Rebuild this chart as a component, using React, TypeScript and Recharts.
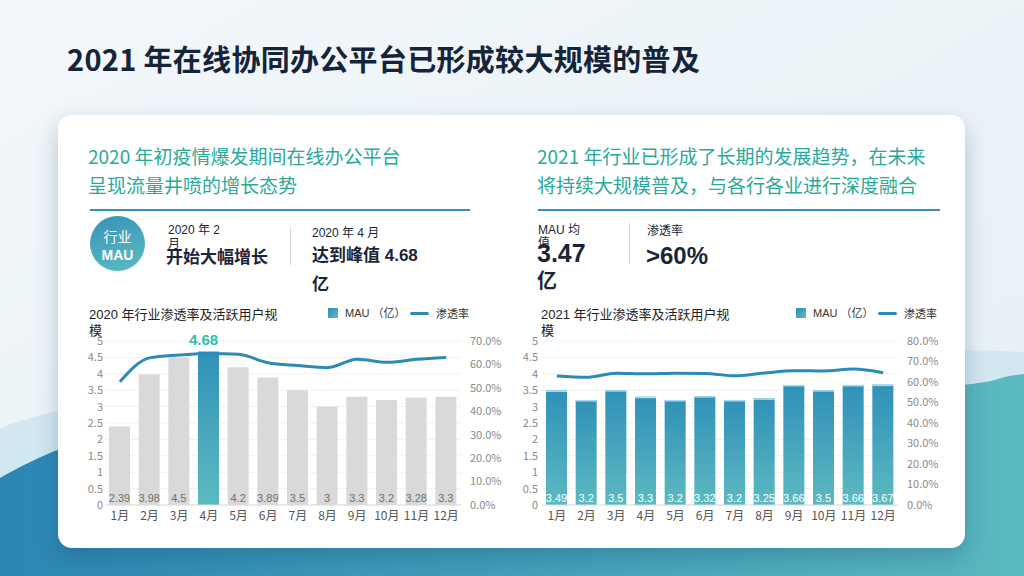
import React from 'react';
import { ComposedChart, Bar, Line, XAxis, YAxis, CartesianGrid, Cell, LabelList } from 'recharts';

const months = ['1月', '2月', '3月', '4月', '5月', '6月', '7月', '8月', '9月', '10月', '11月', '12月'];

// MAU in 亿, penetration in %
const mau2020 = [2.39, 3.98, 4.5, 4.68, 4.2, 3.89, 3.5, 3, 3.3, 3.2, 3.28, 3.3];
const rate2020 = [52.6, 62.8, 64.0, 64.7, 64.3, 60.7, 59.5, 58.6, 62.2, 60.9, 62.2, 63.0];
const mau2021 = [3.49, 3.2, 3.5, 3.3, 3.2, 3.32, 3.2, 3.25, 3.66, 3.5, 3.66, 3.67];
const rate2021 = [62.9, 62.3, 64.3, 64.0, 64.3, 64.2, 63.0, 64.4, 65.5, 65.4, 66.3, 64.5];

const mauTicks = [0, 0.5, 1, 1.5, 2, 2.5, 3, 3.5, 4, 4.5, 5];
const rate2020Ticks = [0, 10, 20, 30, 40, 50, 60, 70];
const rate2021Ticks = [0, 10, 20, 30, 40, 50, 60, 70, 80];

const PEAK_INDEX = 3;

const LATIN = '"Liberation Sans", "Noto Sans CJK SC", sans-serif';
const CJK = '"Noto Sans CJK SC", sans-serif';
const TEAL_TEXT = '#2aa99b';
const LINE_BLUE = '#2c8bb6';
const INK = '#1b2538';

const toRows = (mau: number[], rate: number[]) =>
  months.map((m, i) => ({ month: m, mau: mau[i], rate: rate[i] }));

const pctLabel = (v: number) => `${v.toFixed(1)}%`;

const boxOf = (p: any) => {
  const vb = p.viewBox || {};
  return {
    x: p.x ?? vb.x,
    y: p.y ?? vb.y,
    width: p.width ?? vb.width,
    height: p.height ?? vb.height,
  };
};

// value printed at the foot of each bar
const footLabel = (color: string, skip = -1) => (props: any) => {
  if (props.index === skip) return null;
  const { x, y, width, height } = boxOf(props);
  return (
    <text x={x + width / 2} y={y + height - 3} textAnchor="middle" fontSize={11} fill={color} fontFamily={LATIN}>
      {props.value}
    </text>
  );
};

// highlighted value above the peak bar
const peakLabel = (idx: number) => (props: any) => {
  if (props.index !== idx) return null;
  const { x, y, width } = boxOf(props);
  return (
    <text x={x + width / 2 - 5} y={y - 6} textAnchor="middle" fontSize={15} fontWeight={700} fill="#2bbfa9" fontFamily={LATIN}>
      {props.value}
    </text>
  );
};

// gradient bar with a thin light cap
const CappedBar = (props: any) => {
  const { x, y, width, height, fill } = props;
  if (!height || height <= 0) return null;
  return (
    <g>
      <rect x={x} y={y} width={width} height={height} fill={fill} />
      <rect x={x} y={y} width={width} height={1.5} fill="#a9dcea" />
    </g>
  );
};

type ChartProps = {
  left: number;
  mau: number[];
  rate: number[];
  rateMax: number;
  rateTicks: number[];
  year2020?: boolean;
  leftMargin: number;
};

function MauChart({ left, mau, rate, rateMax, rateTicks, year2020, leftMargin }: ChartProps) {
  const rows = toRows(mau, rate);
  return (
    <div style={{ position: 'absolute', left, top: 330 }}>
      <ComposedChart width={452} height={200} data={rows} margin={{ top: 11, right: 0, bottom: 0, left: 0 }}>
        <CartesianGrid vertical={false} stroke="#f1f1f1" />
        <XAxis
          dataKey="month"
          interval={0}
          height={25}
          tickLine={false}
          tickSize={0}
          tickMargin={6}
          axisLine={{ stroke: '#dcdcdc' }}
          tick={{ fontSize: 12, fill: '#555', fontFamily: CJK }}
        />
        <YAxis
          domain={[0, 5]}
          ticks={mauTicks}
          interval={0}
          width={45}
          tickLine={false}
          axisLine={false}
          tickSize={0}
          tickMargin={leftMargin}
          tick={{ fontSize: 11, fill: '#8a8a8a', fontFamily: CJK }}
        />
        <YAxis
          yAxisId="rate"
          orientation="right"
          domain={[0, rateMax]}
          ticks={rateTicks}
          interval={0}
          tickFormatter={pctLabel}
          width={51}
          tickLine={false}
          axisLine={false}
          tickSize={0}
          tickMargin={9}
          tick={{ fontSize: 11, fill: '#8a8a8a', fontFamily: CJK }}
        />
        <Bar dataKey="mau" barSize={21} isAnimationActive={false} fill="url(#mauFill)" shape={year2020 ? undefined : CappedBar}>
          {year2020 && rows.map((_, i) => <Cell key={i} fill={i === PEAK_INDEX ? 'url(#mauFill)' : '#d9d9d9'} />)}
          <LabelList dataKey="mau" content={footLabel(year2020 ? '#6f6f6f' : '#ffffff', year2020 ? PEAK_INDEX : -1)} />
          {year2020 && <LabelList dataKey="mau" content={peakLabel(PEAK_INDEX)} />}
        </Bar>
        <Line
          yAxisId="rate"
          dataKey="rate"
          type="monotone"
          stroke={LINE_BLUE}
          strokeWidth={3}
          dot={false}
          activeDot={false}
          isAnimationActive={false}
        />
      </ComposedChart>
    </div>
  );
}

const abs = (left: number, top: number, extra: React.CSSProperties = {}): React.CSSProperties => ({
  position: 'absolute',
  left,
  top,
  whiteSpace: 'nowrap',
  lineHeight: 1,
  ...extra,
});

function Legend({ left }: { left: number }) {
  return (
    <>
      <div style={abs(left, 308, { width: 10, height: 10, background: 'linear-gradient(135deg, #2f8db7, #5bbac1)' })} />
      <div style={abs(left + 17, 308, { fontSize: 11, color: '#333', fontFamily: LATIN })}>MAU （亿）</div>
      <div style={abs(left + 82, 312, { width: 19, height: 3, background: LINE_BLUE, borderRadius: 2 })} />
      <div style={abs(left + 108, 308, { fontSize: 11, color: '#333', fontFamily: CJK })}>渗透率</div>
    </>
  );
}

export default function App() {
  return (
    <div style={{ position: 'absolute', left: 0, top: 0, width: 1024, height: 576, overflow: 'hidden', fontFamily: CJK }}>
      <svg width={1024} height={576} style={{ position: 'absolute', left: 0, top: 0 }}>
        <defs>
          <linearGradient id="sky" x1="0" y1="0" x2="1" y2="1">
            <stop offset="0" stopColor="#f2f7fa" />
            <stop offset="1" stopColor="#e5eff5" />
          </linearGradient>
          <linearGradient id="sea" x1="0" y1="0" x2="1" y2="0">
            <stop offset="0" stopColor="#2b86b4" />
            <stop offset="1" stopColor="#5bb9c0" />
          </linearGradient>
          <linearGradient id="mauFill" x1="0" y1="0" x2="0" y2="1">
            <stop offset="0" stopColor="#3190b8" />
            <stop offset="1" stopColor="#5cbac1" />
          </linearGradient>
        </defs>
        <rect width={1024} height={576} fill="url(#sky)" />
        <path d="M0,428 C 90,395 300,360 600,360 S 900,345 1024,352 L1024,576 L0,576 Z" fill="#d3e7f0" />
        <path d="M0,478 C 40,455 80,438 140,428 S 600,400 820,392 S 970,380 1024,374 L1024,576 L0,576 Z" fill="url(#sea)" />
      </svg>

      <div style={abs(67, 44, { fontSize: 29, fontWeight: 700, color: '#16243a', letterSpacing: 0.3 })}>
        2021 年在线协同办公平台已形成较大规模的普及
      </div>

      <div
        style={{
          position: 'absolute',
          left: 58,
          top: 115,
          width: 907,
          height: 433,
          background: '#fff',
          borderRadius: 14,
          boxShadow: '0 10px 22px rgba(20, 70, 100, 0.28)',
        }}
      />

      {/* 2020 side */}
      <div style={abs(88, 146, { fontSize: 19, color: TEAL_TEXT })}>2020 年初疫情爆发期间在线办公平台</div>
      <div style={abs(88, 175, { fontSize: 19, color: TEAL_TEXT })}>呈现流量井喷的增长态势</div>
      <div style={abs(90, 209, { width: 380, height: 1.5, background: '#3a8fbf' })} />

      <div
        style={abs(90, 216, {
          width: 55,
          height: 55,
          borderRadius: '50%',
          background: 'linear-gradient(160deg, #3793b9, #5dbcc2)',
        })}
      />
      <div style={abs(90, 229, { width: 55, textAlign: 'center', fontSize: 14, color: '#fff' })}>行业</div>
      <div style={abs(90, 248, { width: 55, textAlign: 'center', fontSize: 14, fontWeight: 700, color: '#fff', fontFamily: LATIN })}>MAU</div>

      <div style={abs(168, 224, { fontSize: 12, color: INK, fontFamily: LATIN })}>2020 年 2</div>
      <div style={abs(168, 237, { fontSize: 12, color: INK })}>月</div>
      <div style={abs(166, 247, { fontSize: 17, fontWeight: 700, color: INK })}>开始大幅增长</div>
      <div style={abs(290, 227, { width: 1, height: 38, background: '#d5d5d5' })} />
      <div style={abs(312, 227, { fontSize: 12, color: INK, fontFamily: LATIN })}>2020 年 4 月</div>
      <div style={abs(312, 247, { fontSize: 17, fontWeight: 700, color: INK, fontFamily: LATIN })}>达到峰值 4.68</div>
      <div style={abs(312, 274, { fontSize: 17, fontWeight: 700, color: INK })}>亿</div>

      <div style={abs(89, 308, { fontSize: 13, color: '#222', fontFamily: LATIN })}>2020 年行业渗透率及活跃用户规</div>
      <div style={abs(89, 323, { fontSize: 13, color: '#222' })}>模</div>
      <Legend left={328} />

      <MauChart left={60} mau={mau2020} rate={rate2020} rateMax={70} rateTicks={rate2020Ticks} year2020 leftMargin={2} />

      {/* 2021 side */}
      <div style={abs(537, 146, { fontSize: 19, color: TEAL_TEXT })}>2021 年行业已形成了长期的发展趋势，在未来</div>
      <div style={abs(537, 175, { fontSize: 19, color: TEAL_TEXT })}>将持续大规模普及，与各行各业进行深度融合</div>
      <div style={abs(538, 209, { width: 402, height: 1.5, background: '#3a8fbf' })} />

      <div style={abs(538, 224, { fontSize: 12, color: INK, fontFamily: LATIN })}>MAU 均</div>
      <div style={abs(538, 236, { fontSize: 12, color: INK })}>值</div>
      <div style={abs(537, 241, { fontSize: 25, fontWeight: 700, color: INK, fontFamily: LATIN })}>3.47</div>
      <div style={abs(537, 270, { fontSize: 20, fontWeight: 700, color: INK })}>亿</div>
      <div style={abs(629, 223, { width: 1, height: 41, background: '#d5d5d5' })} />
      <div style={abs(647, 224, { fontSize: 12, color: INK })}>渗透率</div>
      <div style={abs(646, 244, { fontSize: 24, fontWeight: 700, color: INK, fontFamily: LATIN })}>&gt;60%</div>

      <div style={abs(541, 308, { fontSize: 13, color: '#222', fontFamily: LATIN })}>2021 年行业渗透率及活跃用户规</div>
      <div style={abs(541, 323, { fontSize: 13, color: '#222' })}>模</div>
      <Legend left={796} />

      <MauChart left={497} mau={mau2021} rate={rate2021} rateMax={80} rateTicks={rate2021Ticks} leftMargin={4} />
    </div>
  );
}
